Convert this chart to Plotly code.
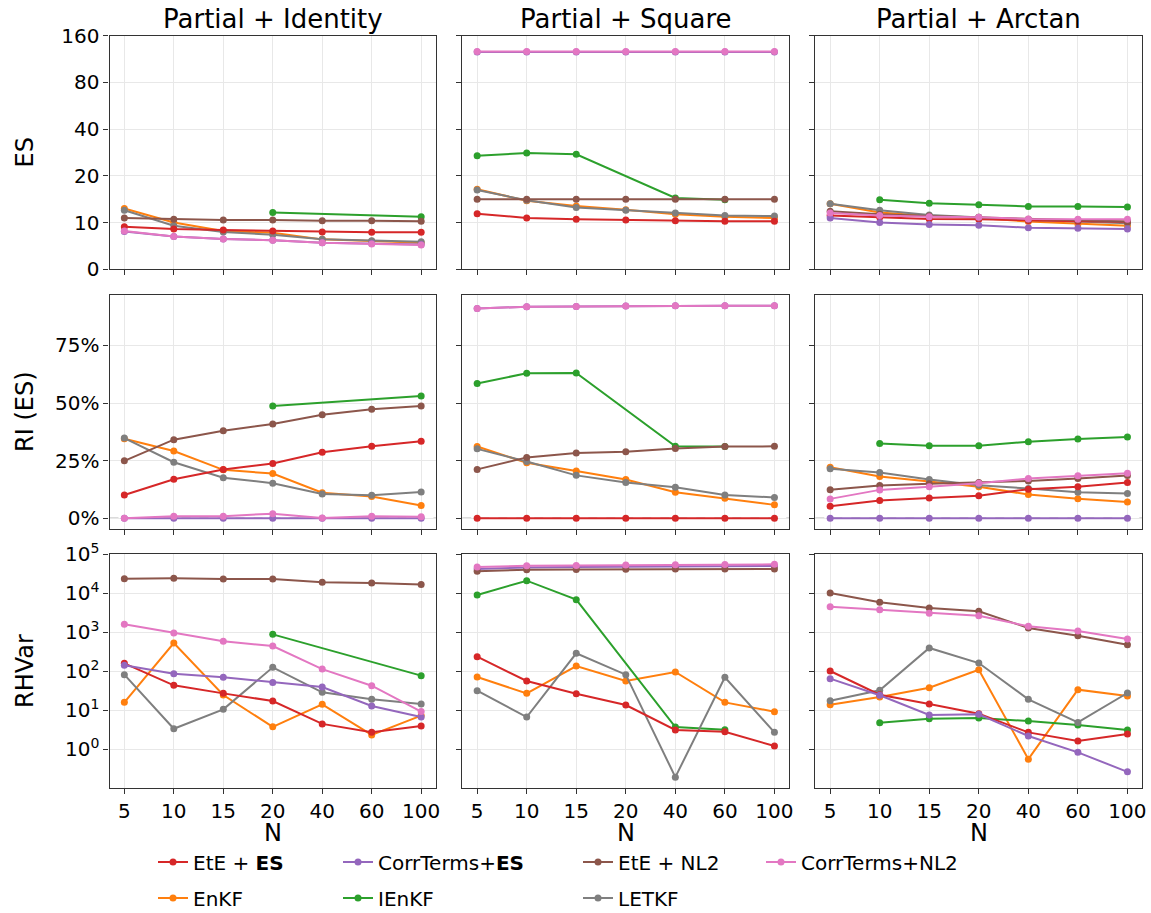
import math
import plotly.graph_objects as go
from plotly.subplots import make_subplots

# ---------------- data ----------------
N_LABELS = ["5", "10", "15", "20", "40", "60", "100"]
COL_TITLES = ["Partial + Identity", "Partial + Square", "Partial + Arctan"]
ROW_TITLES = ["ES", "RI (ES)", "RHVar"]

ES_TICKS = [0, 10, 20, 40, 80, 160]
RI_TICKS = [0, 25, 50, 75]
RH_TICKS = [1, 10, 100, 1000, 10000, 100000]
RH_TICK_EXP = [0, 1, 2, 3, 4, 5]

# ES values (rows: methods)
es_identity = {
    "ete_es":   [9.1, 8.6, 8.4, 8.2, 8.0, 7.9, 7.9],
    "corr_es":  [8.1, 7.0, 6.5, 6.2, 5.7, 5.5, 5.3],
    "ete_nl2":  [10.7, 10.5, 10.4, 10.4, 10.25, 10.25, 10.2],
    "corr_nl2": [8.2, 7.0, 6.5, 6.2, 5.7, 5.4, 5.2],
    "enkf":     [12.3, 10.0, 8.2, 7.8, 6.4, 6.0, 5.7],
    "ienkf":    [None, None, None, 11.6, None, None, 10.9],
    "letkf":    [12.0, 9.3, 8.0, 7.4, 6.4, 6.1, 5.9],
}
es_square = {
    "ete_es":   [11.4, 10.7, 10.5, 10.4, 10.25, 10.2, 10.2],
    "corr_es":  [125.5, 125.5, 125.5, 125.5, 125.5, 125.5, 125.5],
    "ete_nl2":  [14.1, 14.1, 14.1, 14.1, 14.1, 14.1, 14.1],
    "corr_nl2": [126, 126, 126, 126, 126, 126, 126],
    "enkf":     [16.4, 13.8, 12.8, 12.1, 11.3, 10.9, 10.7],
    "ienkf":    [26.9, 28.0, 27.5, None, 14.4, 14.0, None],
    "letkf":    [16.2, 13.9, 12.5, 12.0, 11.5, 11.1, 11.0],
}
es_arctan = {
    "ete_es":   [11.1, 10.8, 10.55, 10.5, 10.3, 10.2, 10.1],
    "corr_es":  [10.7, 10.0, 9.6, 9.4, 8.9, 8.8, 8.6],
    "ete_nl2":  [11.8, 11.3, 11.0, 10.8, 10.5, 10.4, 10.15],
    "corr_nl2": [11.5, 11.1, 10.9, 10.8, 10.55, 10.5, 10.5],
    "enkf":     [13.2, 11.6, 11.0, 10.7, 10.15, 9.7, 9.3],
    "ienkf":    [None, 14.0, 13.3, 13.0, 12.7, 12.7, 12.6],
    "letkf":    [13.2, 12.0, 11.2, 10.8, 10.4, 10.15, 9.86],
}

# RI (ES) values in percent
ri_identity = {
    "ete_es":   [10.1, 16.9, 21.1, 23.8, 28.6, 31.2, 33.4],
    "corr_es":  [0, 0, 0, 0, 0, 0, 0],
    "ete_nl2":  [24.9, 34.1, 38.0, 40.9, 44.9, 47.3, 48.7],
    "corr_nl2": [0, 0.9, 0.9, 2.0, 0.1, 0.9, 0.7],
    "enkf":     [34.5, 29.2, 21.0, 19.4, 11.1, 9.4, 5.5],
    "ienkf":    [None, None, None, 48.7, None, None, 53.0],
    "letkf":    [34.8, 24.3, 17.6, 15.2, 10.5, 10.0, 11.4],
}
ri_square = {
    "ete_es":   [0, 0, 0, 0, 0, 0, 0],
    "corr_es":  [91.0, 91.8, 91.9, 92.1, 92.2, 92.2, 92.2],
    "ete_nl2":  [21.2, 26.4, 28.3, 28.9, 30.3, 31.1, 31.2],
    "corr_nl2": [91.0, 91.8, 91.9, 92.1, 92.2, 92.2, 92.2],
    "enkf":     [31.1, 24.1, 20.5, 16.8, 11.3, 8.7, 5.8],
    "ienkf":    [58.5, 62.9, 63.0, None, 31.2, 31.1, None],
    "letkf":    [30.1, 24.6, 18.6, 15.5, 13.4, 10.1, 9.0],
}
ri_arctan = {
    "ete_es":   [5.2, 7.7, 8.8, 9.8, 12.6, 13.7, 15.5],
    "corr_es":  [0, 0, 0, 0, 0, 0, 0],
    "ete_nl2":  [12.4, 14.2, 15.0, 15.5, 16.2, 17.2, 18.5],
    "corr_nl2": [8.4, 12.3, 13.7, 15.2, 17.2, 18.4, 19.5],
    "enkf":     [22.1, 18.1, 15.9, 13.7, 10.3, 8.5, 7.1],
    "ienkf":    [None, 32.4, 31.5, 31.5, 33.2, 34.4, 35.3],
    "letkf":    [21.5, 19.8, 16.8, 14.3, 12.9, 11.3, 10.7],
}

# RHVar values
rh_identity = {
    "ete_es":   [157, 43, 26.7, 17, 4.4, 2.7, 3.9],
    "corr_es":  [140, 85, 69, 51, 39, 12.7, 6.6],
    "ete_nl2":  [23300, 23800, 22800, 22800, 18800, 18000, 16400],
    "corr_nl2": [1570, 942, 577, 438, 112, 42, 9.1],
    "enkf":     [15.7, 522, 24.2, 3.7, 14, 2.3, 7.2],
    "ienkf":    [None, None, None, 871, None, None, 76],
    "letkf":    [80.5, 3.3, 10.4, 124, 28.4, 18.8, 14.3],
}
rh_square = {
    "ete_es":   [233, 55.4, 26.2, 13.4, 3.07, 2.78, 1.19],
    "corr_es":  [41200, 45000, 46500, 47500, 48500, 49000, 49300],
    "ete_nl2":  [35900, 39600, 40000, 40400, 41000, 41200, 41200],
    "corr_nl2": [46400, 50100, 51000, 52200, 53000, 53500, 54300],
    "enkf":     [70.2, 26.7, 134, 55.4, 94.2, 15.7, 9.06],
    "ienkf":    [8890, 20700, 6740, None, 3.66, 3.13, None],
    "letkf":    [31.3, 6.6, 284, 80.5, 0.19, 68.8, 2.67],
}
rh_arctan = {
    "ete_es":   [100, 24.7, 14.3, 8.05, 2.67, 1.6, 2.42],
    "corr_es":  [63.6, 23.8, 7.45, 7.74, 2.15, 0.82, 0.26],
    "ete_nl2":  [10000, 5770, 4130, 3390, 1270, 805, 473],
    "corr_nl2": [4460, 3740, 3010, 2620, 1400, 1060, 662],
    "enkf":     [13.7, 21.5, 37.4, 108, 0.55, 33.2, 22.9],
    "ienkf":    [None, 4.73, 6.0, 6.24, 5.22, 4.12, 3.07],
    "letkf":    [17.3, 31.9, 389, 160, 18.8, 4.8, 27.3],
}

# ---------------- styling ----------------
METHOD_NAMES = {
    "ete_es": "EtE + <b>ES</b>",
    "corr_es": "CorrTerms+<b>ES</b>",
    "ete_nl2": "EtE + NL2",
    "corr_nl2": "CorrTerms+NL2",
    "enkf": "EnKF",
    "ienkf": "IEnKF",
    "letkf": "LETKF",
}
COLORS = {
    "ete_es": "#d62728",
    "corr_es": "#9467bd",
    "ete_nl2": "#8c564b",
    "corr_nl2": "#e377c2",
    "enkf": "#ff7f0e",
    "ienkf": "#2ca02c",
    "letkf": "#7f7f7f",
}
DRAW_ORDER = ["enkf", "ienkf", "letkf", "ete_es", "corr_es", "ete_nl2", "corr_nl2"]
LEGEND_IDS = {
    "ete_es": "legend", "corr_es": "legend2", "ete_nl2": "legend3", "corr_nl2": "legend4",
    "enkf": "legend5", "ienkf": "legend6", "letkf": "legend7",
}
# legend text positions in pixels (x of text start, y centre)
LEGEND_POS = {
    "ete_es": (195, 862), "corr_es": (380, 862), "ete_nl2": (620, 862), "corr_nl2": (803, 862),
    "enkf": (195, 898), "ienkf": (380, 898), "letkf": (620, 898),
}

W, H = 1151, 913
FONT = "DejaVu Sans"


def es_scale(v):
    if v is None:
        return None
    return v / 10.0 if v <= 10 else 1.0 + math.log2(v / 10.0)


PANELS = [
    [es_identity, es_square, es_arctan],
    [ri_identity, ri_square, ri_arctan],
    [rh_identity, rh_square, rh_arctan],
]

fig = make_subplots(rows=3, cols=3)

for r in range(3):
    for c in range(3):
        data = PANELS[r][c]
        for m in DRAW_ORDER:
            vals = data[m]
            if r == 0:
                vals = [es_scale(v) for v in vals]
            show = (r == 0 and c == 0)
            fig.add_trace(
                go.Scatter(
                    x=N_LABELS, y=vals, mode="lines+markers",
                    name=METHOD_NAMES[m],
                    line=dict(color=COLORS[m], width=2),
                    marker=dict(color=COLORS[m], size=7),
                    connectgaps=True,
                    showlegend=show,
                    legend=LEGEND_IDS[m],
                    hoverinfo="skip",
                ),
                row=r + 1, col=c + 1,
            )

# domains (pixel measured)
x_dom = [(109.5, 436.0), (462.3, 789.3), (815.3, 1142.3)]
y_dom = [(35.5, 269.3), (294.7, 529.3), (554.0, 788.0)]

axis_common = dict(
    showline=True, linecolor="#333333", linewidth=1.2, mirror=True,
    ticks="outside", ticklen=5, tickwidth=1.2, tickcolor="#333333",
    showgrid=True, gridcolor="#e8e8e8", gridwidth=1, zeroline=False,
    tickfont=dict(family=FONT, size=20, color="#000000"),
    automargin=False,
)

for r in range(3):
    for c in range(3):
        x0, x1 = x_dom[c]
        ytop, ybot = y_dom[r]
        fig.update_xaxes(
            domain=[x0 / W, x1 / W],
            type="category", range=[-0.3, 6.3],
            showticklabels=(r == 2),
            **axis_common,
            row=r + 1, col=c + 1,
        )
        ykw = dict(domain=[1 - ybot / H, 1 - ytop / H], showticklabels=(c == 0))
        if r == 0:
            ykw.update(range=[0, 5], tickmode="array",
                       tickvals=[es_scale(t) for t in ES_TICKS],
                       ticktext=[str(t) for t in ES_TICKS])
        elif r == 1:
            ykw.update(range=[-4.8, 97], tickmode="array",
                       tickvals=RI_TICKS, ticktext=[f"{t}%" for t in RI_TICKS])
        else:
            ykw.update(type="log", range=[-1.0, 5.0], tickmode="array",
                       tickvals=RH_TICKS,
                       ticktext=[f"10<sup>{e}</sup>" for e in RH_TICK_EXP])
        fig.update_yaxes(**ykw, **axis_common, row=r + 1, col=c + 1)

# dashed zero lines in RI row
for c in range(3):
    idx = 3 + c + 1
    fig.add_shape(
        type="line", xref=f"x{idx} domain", yref=f"y{idx}",
        x0=0, x1=1, y0=0, y1=0,
        line=dict(color="#777777", width=1, dash="dash"),
        layer="below",
    )

annotations = []
for c in range(3):
    xc = (x_dom[c][0] + x_dom[c][1]) / 2 / W
    annotations.append(dict(
        text=COL_TITLES[c], x=xc, y=1 - 19 / H, xref="paper", yref="paper",
        xanchor="center", yanchor="middle", showarrow=False,
        font=dict(family=FONT, size=26, color="#000000")))
    annotations.append(dict(
        text="N", x=xc, y=1 - 833 / H, xref="paper", yref="paper",
        xanchor="center", yanchor="middle", showarrow=False,
        font=dict(family=FONT, size=24, color="#000000")))
for r in range(3):
    yc = (y_dom[r][0] + y_dom[r][1]) / 2
    annotations.append(dict(
        text=ROW_TITLES[r], x=25 / W, y=1 - yc / H, xref="paper", yref="paper",
        xanchor="center", yanchor="middle", showarrow=False, textangle=-90,
        font=dict(family=FONT, size=24, color="#000000")))

legends = {}
for m, lid in LEGEND_IDS.items():
    tx, ty = LEGEND_POS[m]
    legends[lid] = dict(
        x=(tx - 42) / W, y=1 - ty / H, xanchor="left", yanchor="middle",
        xref="paper", yref="paper",
        bgcolor="rgba(0,0,0,0)", borderwidth=0,
        font=dict(family=FONT, size=20, color="#000000"),
        itemwidth=30,
    )

fig.update_layout(
    width=W, height=H,
    margin=dict(l=0, r=0, t=0, b=0, autoexpand=False),
    paper_bgcolor="white", plot_bgcolor="white",
    annotations=annotations,
    font=dict(family=FONT, color="#000000"),
    **legends,
)

fig.write_html(
    "out.html",
    config={"displayModeBar": False},
    post_script="document.body.style.margin='0px';",
)
